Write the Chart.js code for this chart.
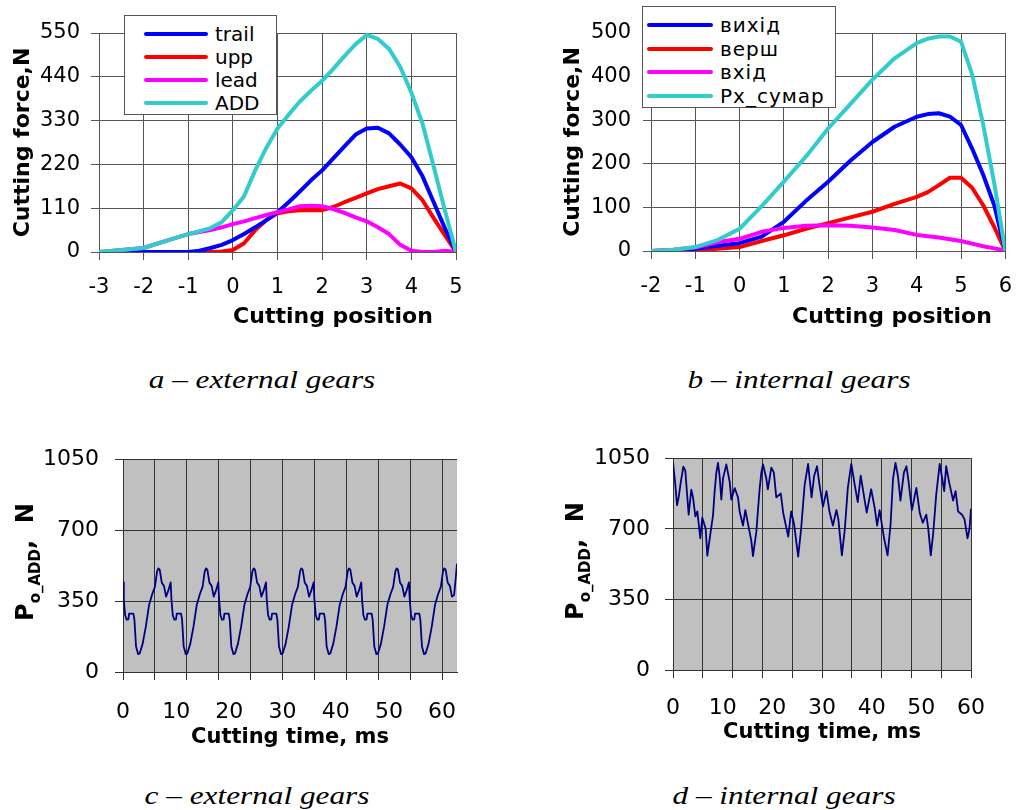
<!DOCTYPE html>
<html><head><meta charset="utf-8">
<script src="https://cdn.jsdelivr.net/npm/chart.js@4.4.1/dist/chart.umd.min.js"></script>
<style>
html,body{margin:0;padding:0;background:#fff;}
#page{position:relative;width:1027px;height:810px;overflow:hidden;background:#fff;}
canvas{position:absolute;}
.legend{position:absolute;background:#fff;border:1px solid #555;box-sizing:border-box;font-family:"DejaVu Sans",sans-serif;font-size:20px;color:#000;}
.legend .row{position:absolute;left:0;right:0;height:24px;white-space:nowrap;}
.legend .sw{position:absolute;top:10px;height:4px;border-radius:2px;}
.legend .tx{position:absolute;top:0;line-height:24px;}
.cap{position:absolute;font-family:"Liberation Serif","Times New Roman",serif;font-style:italic;font-size:25px;white-space:nowrap;color:#000;}
</style></head><body>
<div id="page">
<canvas id="ca" width="500" height="345" style="left:0px;top:0px"></canvas>
<canvas id="cb" width="487" height="345" style="left:540px;top:0px"></canvas>
<canvas id="cc" width="500" height="330" style="left:0px;top:430px"></canvas>
<canvas id="cd" width="487" height="330" style="left:540px;top:430px"></canvas>
<div class="legend" id="lega" style="left:124px;top:15px;width:153px;height:100px"></div>
<div class="legend" id="legb" style="left:642px;top:6px;width:194px;height:102px;letter-spacing:1px"></div>
<div class="cap" id="capa" style="left:262px;top:366px"></div>
<div class="cap" id="capb" style="left:799px;top:366px"></div>
<div class="cap" id="capc" style="left:257px;top:782px"></div>
<div class="cap" id="capd" style="left:784px;top:782px"></div>
</div>
<script>
// ---------------- DATA ----------------
// (a) external gears
const aPos   = [-3,-2.5,-2,-1.5,-1,-0.75,-0.5,-0.25,0,0.25,0.5,0.75,1,1.25,1.5,1.75,2,2.25,2.5,2.75,3,3.25,3.5,3.75,4,4.25,4.5,4.75,5];
const aTrail = [0,0,0,0,0,3,10,18,30,45,62,80,100,125,152,180,205,235,265,295,310,312,298,270,238,190,125,60,0];
const aUpp   = [0,0,0,0,0,0,0,1,5,22,55,80,97,102,105,105,105,113,125,136,147,158,165,172,160,130,85,42,0];
const aLead  = [0,5,10,28,45,50,55,62,70,77,85,93,100,107,115,116,115,108,98,87,77,62,45,18,3,0,0,3,0];
const aAdd   = [0,5,10,28,45,52,60,75,105,140,205,262,310,345,378,405,430,460,492,522,545,535,510,465,400,322,215,105,0];
const aLabels = ['trail','upp','lead','ADD'];
const aXTicks = [-3,-2,-1,0,1,2,3,4,5];
const aYTicks = [0,110,220,330,440,550];

// (b) internal gears
const bPos    = [-2,-1.5,-1,-0.5,0,0.5,1,1.5,2,2.5,3,3.5,4,4.25,4.5,4.75,5,5.25,5.5,5.75,6];
const bVyhid  = [0,2,5,12,18,33,67,115,159,207,250,285,308,314,316,308,289,235,175,105,0];
const bVersh  = [0,0,2,5,9,23,36,51,64,77,90,108,124,135,151,168,168,145,105,55,0];
const bVhid   = [0,3,8,20,28,44,53,58,59,58,54,48,37,34,31,27,23,17,11,6,1];
const bSumar  = [0,3,9,25,51,103,159,217,281,337,393,442,477,487,492,492,480,405,290,155,0];
const bLabels = ['вихід','верш','вхід','Px_сумар'];
const bXTicks = [-2,-1,0,1,2,3,4,5,6];
const bYTicks = [0,100,200,300,400,500];

// (c) external gears, time signal
const cTime = [
 0,0.15,0.4,0.7,1.0,1.15,1.95,2.15,2.45,2.85,3.15,3.7,4.3,4.9,5.5,6.0,6.4,6.65,6.9,7.3,7.7,8.1,8.5,
 8.96,9.11,9.36,9.66,9.96,10.11,10.91,11.11,11.41,11.81,12.11,12.66,13.26,13.86,14.46,14.96,15.36,15.61,15.86,16.26,16.66,17.06,17.46,
 17.92,18.07,18.32,18.62,18.92,19.07,19.87,20.07,20.37,20.77,21.07,21.62,22.22,22.82,23.42,23.92,24.32,24.57,24.82,25.22,25.62,26.02,26.42,
 26.88,27.03,27.28,27.58,27.88,28.03,28.83,29.03,29.33,29.73,30.03,30.58,31.18,31.78,32.38,32.88,33.28,33.53,33.78,34.18,34.58,34.98,35.38,
 35.84,35.99,36.24,36.54,36.84,36.99,37.79,37.99,38.29,38.69,38.99,39.54,40.14,40.74,41.34,41.84,42.24,42.49,42.74,43.14,43.54,43.94,44.34,
 44.8,44.95,45.2,45.5,45.8,45.95,46.75,46.95,47.25,47.65,47.95,48.5,49.1,49.7,50.3,50.8,51.2,51.45,51.7,52.1,52.5,52.9,53.3,
 53.76,53.91,54.16,54.46,54.76,54.91,55.71,55.91,56.21,56.61,56.91,57.46,58.06,58.66,59.26,59.76,60.16,60.41,60.66,61.06,61.46,61.86,62.26,62.55,62.8];
const cForce = [
 442,357,280,258,260,288,288,257,126,88,92,140,225,330,385,420,495,511,505,440,425,372,400,
 442,357,280,258,260,288,288,257,126,88,92,140,225,330,385,420,495,511,505,440,425,372,400,
 442,357,280,258,260,288,288,257,126,88,92,140,225,330,385,420,495,511,505,440,425,372,400,
 442,357,280,258,260,288,288,257,126,88,92,140,225,330,385,420,495,511,505,440,425,372,400,
 442,357,280,258,260,288,288,257,126,88,92,140,225,330,385,420,495,511,505,440,425,372,400,
 442,357,280,258,260,288,288,257,126,88,92,140,225,330,385,420,495,511,505,440,425,372,400,
 442,357,280,258,260,288,288,257,126,88,92,140,225,330,385,420,495,511,505,440,425,372,380,460,535];
const cGridX  = [0,6,12,18,24,30,36,42,48,54,60];
const cXLabels = [0,10,20,30,40,50,60];
const cYTicks = [0,350,700,1050];

// (d) internal gears, time signal
const dTime = [0,0.47,0.81,1.14,1.54,2.08,2.48,2.75,3.15,3.69,4.03,4.5,4.9,5.5,5.9,6.58,6.91,7.58,8.05,8.39,8.73,9.06,9.39,9.73,10.07,10.74,11.41,11.74,12.42,13.09,13.42,14.09,14.56,15.3,15.77,16.1,16.78,17.11,17.45,17.79,18.12,18.79,19.1,19.8,20.3,20.8,21.7,22.2,23.2,23.8,24.4,25.2,25.8,26.5,27.2,27.9,28.4,29.0,29.5,30.2,30.9,31.5,32.2,32.9,33.3,34.0,34.6,35.2,35.9,36.6,37.2,37.8,38.6,39.0,39.9,40.6,41.1,41.6,42.5,43.2,43.8,44.3,44.8,45.3,45.8,46.5,47.0,47.4,48.1,49.0,49.7,50.3,51.0,51.4,51.9,52.4,53.0,53.7,54.2,54.6,55.0,55.6,56.4,56.9,57.4,58.2,58.7,59.3,59.7,60.0];
const dForce = [1030,918,817,856,926,1008,988,900,770,894,856,762,786,653,755,700,567,685,765,887,980,1027,960,845,950,1019,933,845,902,856,786,716,793,700,640,565,685,793,900,980,1019,949,895,1003,980,856,875,777,661,786,720,562,700,917,1022,856,960,1010,917,810,887,786,716,793,747,568,700,903,1022,917,832,964,840,780,896,805,716,793,653,568,720,949,1027,960,840,980,1010,940,793,903,777,730,770,700,568,680,871,1022,950,887,1010,930,840,887,786,770,747,653,700,800];
const dGridX  = [0,6,12,18,24,30,36,42,48,54,60];
const dXLabels = [0,10,20,30,40,50,60];
const dYTicks = [0,350,700,1050];

const captions = ['a – external gears','b – internal gears','c – external gears','d – internal gears'];

// ---------------- STYLE / PLUGINS ----------------
const seriesColors = ['#0000ff','#ff0000','#ff00ff','#33cccc'];
const seriesOrder  = [2,3,1,0];
const FONT = 'DejaVu Sans';

const plotBg = {
  id:'plotBg',
  beforeDraw(chart, args, opts){
    if(!opts || !opts.color) return;
    const {ctx, chartArea:{left,top,width,height}} = chart;
    ctx.save(); ctx.fillStyle = opts.color; ctx.fillRect(left,top,width,height); ctx.restore();
  }
};
const freeText = {
  id:'freeText',
  afterDraw(chart, args, opts){
    if(!opts || !opts.items) return;
    const ctx = chart.ctx;
    opts.items.forEach(it=>{
      ctx.save();
      ctx.translate(it.x, it.y);
      if(it.rotate) ctx.rotate(it.rotate);
      ctx.fillStyle = '#000';
      ctx.textBaseline = 'middle';
      ctx.textAlign = 'left';
      let total = 0;
      const w = it.parts.map(p=>{ctx.font=p.font; const m=ctx.measureText(p.text).width; total+=m; return m;});
      let x = -total/2;
      it.parts.forEach((p,i)=>{ctx.font=p.font; ctx.fillText(p.text, x, p.dy||0); x+=w[i];});
      ctx.restore();
    });
  }
};
Chart.register(plotBg, freeText);

function fixedTicks(arr){ return s => { s.ticks = arr.map(v=>({value:v})); }; }

function positionChart(id, pos, series, labels, o){
  return new Chart(document.getElementById(id), {
    type:'line',
    data:{ datasets: series.map((ser,i)=>({
      label: labels[i],
      data: pos.map((x,j)=>({x:x, y:ser[j]})),
      borderColor: seriesColors[i], backgroundColor: seriesColors[i],
      borderWidth:4, pointRadius:0, tension:0, fill:false, order: seriesOrder[i],
      borderJoinStyle:'round', borderCapStyle:'round'
    }))},
    options:{
      responsive:false, animation:false, devicePixelRatio:1,
      layout:{padding:{top:33,right:o.padRight,bottom:0,left:0}},
      plugins:{legend:{display:false}, tooltip:{enabled:false},
        freeText:{items:[{x:o.xTitleX, y:317, parts:[{text:'Cutting position', font:'bold 22px "'+FONT+'"'}]}]}},
      scales:{
        x:{type:'linear', min:o.xMin, max:o.xMax, afterBuildTicks: fixedTicks(o.xTicks), afterFit: s=>{s.height=o.xH;},
           grid:{color:'#555', lineWidth:1, tickLength:8}, border:{color:'#555'},
           ticks:{padding:15, color:'#000', autoSkip:false, maxRotation:0, minRotation:0, font:{family:FONT,size:21}, callback:v=>String(v)}},
        y:{type:'linear', min:o.yMin, max:o.yMax, afterBuildTicks: fixedTicks(o.yTicks), afterFit: s=>{s.width=o.yW;},
           grid:{color:'#555', lineWidth:1, tickLength:8}, border:{color:'#555'},
           ticks:{padding:o.yPad, color:'#000', font:{family:FONT,size:21}, callback:v=>String(v)},
           title:{display:true, text:'Cutting force,N', color:'#000', font:{family:FONT,size:22,weight:'bold'}, padding:{top:o.yTitlePad,bottom:0}}}
      }
    }
  });
}

function timeChart(id, time, force, o){
  const allX = [...new Set([...o.gridX, ...o.xLabels])].sort((p,q)=>p-q);
  return new Chart(document.getElementById(id), {
    type:'line',
    data:{ datasets:[{ label:'Po_ADD', data: time.map((t,j)=>({x:t, y:force[j]})),
      borderColor:'#000080', borderWidth:1.8, pointRadius:0, tension:0, fill:false, borderJoinStyle:'round' }]},
    options:{
      responsive:false, animation:false, devicePixelRatio:1,
      layout:{padding:{top:15,right:o.padRight,bottom:0,left:0}},
      plugins:{legend:{display:false}, tooltip:{enabled:false}, plotBg:{color:'#c0c0c0'},
        freeText:{items:[{x:o.yTitleX, y:o.yTitleY, rotate:-Math.PI/2, parts:[
          {text:'P', font:'bold 24px "'+FONT+'"'},
          {text:'o_ADD', font:'bold 15px "'+FONT+'"', dy:9},
          {text:',  N', font:'bold 24px "'+FONT+'"'}]}]}},
      scales:{
        x:{type:'linear', min:o.xMin, max:o.xMax, afterBuildTicks: fixedTicks(allX), afterFit: s=>{s.height=o.xH;},
           grid:{color: c => o.gridX.includes(c.tick.value) ? '#333' : 'rgba(0,0,0,0)', lineWidth:1, tickLength:8},
           border:{color:'#333'},
           ticks:{padding:o.xPad, color:'#000', autoSkip:false, maxRotation:0, minRotation:0, font:{family:FONT,size:22},
                  callback: v => o.xLabels.includes(v) ? String(v) : ''},
           title:{display:true, text:'Cutting time, ms', color:'#000', font:{family:FONT,size:21,weight:'bold'}, padding:{top:0,bottom:o.xTitlePad}}},
        y:{type:'linear', min:0, max:1050, afterBuildTicks: fixedTicks(o.yTicks), afterFit: s=>{s.width=o.yW;},
           grid:{color:'#333', lineWidth:1, tickLength:8}, border:{color:'#333'},
           ticks:{padding:o.yPad, color:'#000', font:{family:FONT,size:22}, callback:v=>String(v)}}
      }
    }
  });
}

function htmlLegend(chart, el, o){
  chart.data.datasets.forEach((ds,i)=>{
    const row = document.createElement('div'); row.className='row'; row.style.top=(o.first + i*o.step - 12)+'px';
    const sw = document.createElement('div'); sw.className='sw'; sw.style.left=o.lineL+'px'; sw.style.width=o.lineW+'px'; sw.style.background=ds.borderColor;
    const tx = document.createElement('div'); tx.className='tx'; tx.style.left=o.textL+'px'; tx.textContent=ds.label;
    row.appendChild(sw); row.appendChild(tx); el.appendChild(row);
  });
}

const chA = positionChart('ca', aPos, [aTrail,aUpp,aLead,aAdd], aLabels,
  {xMin:-3,xMax:5,xTicks:aXTicks,yMin:0,yMax:550,yTicks:aYTicks,padRight:44,xH:93,yW:99,yPad:11,yTitlePad:10,xTitleX:333});
const chB = positionChart('cb', bPos, [bVyhid,bVersh,bVhid,bSumar], bLabels,
  {xMin:-2,xMax:6,xTicks:bXTicks,yMin:0,yMax:500,yTicks:bYTicks,padRight:12,xH:94,yW:111,yPad:12,yTitlePad:20,xTitleX:352});
timeChart('cc', cTime, cForce, {xMin:0,xMax:62.8,gridX:cGridX,xLabels:cXLabels,yTicks:cYTicks,padRight:43,xH:88,yW:123,yPad:16,xPad:19,xTitlePad:10,yTitleX:27,yTitleY:132});
timeChart('cd', dTime, dForce, {xMin:0,xMax:60,gridX:dGridX,xLabels:dXLabels,yTicks:dYTicks,padRight:56,xH:90,yW:133,yPad:15,xPad:17,xTitlePad:15,yTitleX:37,yTitleY:131});

htmlLegend(chA, document.getElementById('lega'), {first:18, step:23, lineL:19, lineW:64, textL:90});
htmlLegend(chB, document.getElementById('legb'), {first:18, step:23.7, lineL:4, lineW:66, textL:77});

['capa','capb','capc','capd'].forEach((id,i)=>{
  const el = document.getElementById(id); el.textContent = captions[i];
  el.style.transform = 'translateX(-50%) scaleX(1.25)';
});
</script>
</body></html>
